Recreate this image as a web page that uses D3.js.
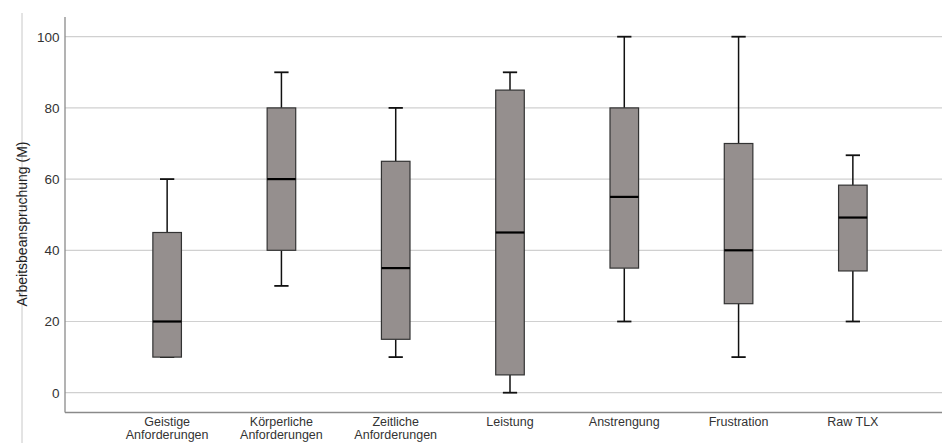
<!DOCTYPE html>
<html><head><meta charset="utf-8">
<script src="https://cdn.jsdelivr.net/npm/d3@7"></script>
<style>body{margin:0;background:#fff}svg{display:block}text{font-family:"Liberation Sans",Arial,sans-serif}</style>
</head><body><svg id="c" width="942" height="443"></svg>
<script>
const categories = [["Geistige","Anforderungen"],["Körperliche","Anforderungen"],["Zeitliche","Anforderungen"],["Leistung"],["Anstrengung"],["Frustration"],["Raw TLX"]];
const mins    = [10, 30, 10, 0, 20, 10, 20];
const q1s     = [10, 40, 15, 5, 35, 25, 34.2];
const medians = [20, 60, 35, 45, 55, 40, 49.2];
const q3s     = [45, 80, 65, 85, 80, 70, 58.3];
const maxs    = [60, 90, 80, 90, 100, 100, 66.7];
const yTicks  = [0, 20, 40, 60, 80, 100];
const yLabel  = "Arbeitsbeanspruchung (M)";

const svg = d3.select("#c");
const y = d3.scaleLinear().domain([0, 100]).range([392.7, 36.7]);
const x = d3.scaleBand().domain(d3.range(categories.length)).range([110, 910]).paddingInner(0.75).paddingOuter(0.375);
const bw = x.bandwidth();

// frame line at left
svg.append("line").attr("x1",22).attr("x2",22).attr("y1",13).attr("y2",443).attr("stroke","#c8c8c8").attr("stroke-width",1);

// gridlines
svg.append("g").selectAll("line").data(yTicks).join("line")
  .attr("x1",65).attr("x2",942).attr("y1",d=>y(d)).attr("y2",d=>y(d))
  .attr("stroke","#d0d0d0").attr("stroke-width",1.2);

// axes
svg.append("line").attr("x1",65).attr("x2",65).attr("y1",17).attr("y2",412.5).attr("stroke","#8a8a8a").attr("stroke-width",1.3);
svg.append("line").attr("x1",65).attr("x2",942).attr("y1",412.5).attr("y2",412.5).attr("stroke","#8a8a8a").attr("stroke-width",1.3);

svg.append("g").selectAll("text").data(yTicks).join("text")
  .attr("x",59.5).attr("y",d=>y(d)).attr("dy","0.36em").attr("text-anchor","end")
  .attr("font-size",13.5).attr("fill","#333").text(d=>d);

svg.append("text").attr("transform","translate(22,224) rotate(-90)").attr("text-anchor","middle")
  .attr("dy","0.35em").attr("font-size",14).attr("fill","#222").text(yLabel);

// x labels
const xl = svg.append("g").selectAll("text").data(categories).join("text")
  .attr("text-anchor","middle").attr("font-size",12.5).attr("fill","#333")
  .attr("x",(d,i)=>x(i)+bw/2);
xl.each(function(d,i){
  const t = d3.select(this);
  d.forEach((ln,j)=>t.append("tspan").attr("x",x(i)+bw/2).attr("y",426+j*13).text(ln));
});

// boxes
const g = svg.append("g");
categories.forEach((c,i)=>{
  const cx = x(i)+bw/2;
  const cap = bw/2;
  g.append("line").attr("x1",cx).attr("x2",cx).attr("y1",y(maxs[i])).attr("y2",y(q3s[i])).attr("stroke","#111").attr("stroke-width",1.5);
  g.append("line").attr("x1",cx).attr("x2",cx).attr("y1",y(q1s[i])).attr("y2",y(mins[i])).attr("stroke","#111").attr("stroke-width",1.5);
  g.append("line").attr("x1",cx-cap/2).attr("x2",cx+cap/2).attr("y1",y(maxs[i])).attr("y2",y(maxs[i])).attr("stroke","#111").attr("stroke-width",1.8);
  g.append("line").attr("x1",cx-cap/2).attr("x2",cx+cap/2).attr("y1",y(mins[i])).attr("y2",y(mins[i])).attr("stroke","#111").attr("stroke-width",1.8);
  g.append("rect").attr("x",x(i)).attr("width",bw).attr("y",y(q3s[i])).attr("height",y(q1s[i])-y(q3s[i]))
    .attr("fill","#958f8e").attr("stroke","#333").attr("stroke-width",1.2);
  g.append("line").attr("x1",x(i)).attr("x2",x(i)+bw).attr("y1",y(medians[i])).attr("y2",y(medians[i])).attr("stroke","#000").attr("stroke-width",2.2);
});
</script></body></html>
